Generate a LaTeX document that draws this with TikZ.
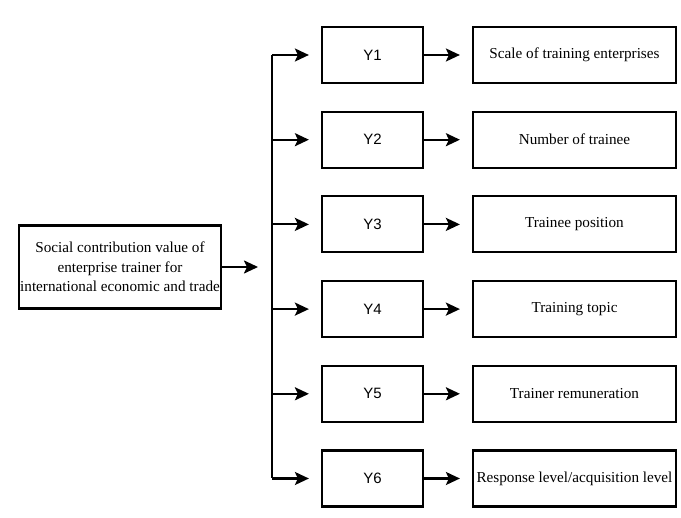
\documentclass[tikz,border=0pt]{standalone}
\usepackage{fontspec}
\setmainfont{Liberation Serif}
\newfontfamily\yfont{Liberation Sans}
\usepackage{tikz}
\usetikzlibrary{arrows.meta, positioning}

\begin{document}
\begin{tikzpicture}[
    node distance=26.5pt,
    every node/.style={font=\fontsize{15.2}{19.5}\selectfont},
    mainbox/.style={
        rectangle,
        draw=black,
        line width=2.2pt,
        align=center,
        fill=white,
        inner sep=1pt,
        minimum width=202pt,
        minimum height=83pt
    },
    ybox/.style={
        rectangle,
        draw=black,
        line width=2.2pt,
        fill=white,
        font=\yfont\fontsize{15}{18}\selectfont,
        minimum width=101pt,
        minimum height=56pt
    },
    fbox/.style={
        rectangle,
        draw=black,
        line width=2.2pt,
        fill=white,
        inner sep=1pt,
        minimum width=203pt,
        minimum height=56pt
    },
    trunk/.style={
        line width=2.2pt
    },
    arrow/.style={
        -{Stealth[length=14pt, width=13pt, inset=3pt]},
        line width=2.2pt,
        shorten >=12pt
    }
]

\useasboundingbox (0,0) rectangle (681pt,-518pt);

% Nodos
\node[mainbox] (main) at (120pt,-267pt) {Social contribution value of\\enterprise trainer for\\international economic and trade};

\node[ybox] (y1) at (372.5pt,-55pt) {Y1};
\node[ybox, below=of y1] (y2) {Y2};
\node[ybox, below=of y2] (y3) {Y3};
\node[ybox, below=of y3] (y4) {Y4};
\node[ybox, below=of y4] (y5) {Y5};
\node[ybox, below=of y5] (y6) {Y6};

\node[fbox, right=47.8pt of y1] (f1) {Scale of training enterprises};
\node[fbox, right=47.8pt of y2] (f2) {Number of trainee};
\node[fbox, right=47.8pt of y3] (f3) {Trainee position};
\node[fbox, right=47.8pt of y4] (f4) {Training topic};
\node[fbox, right=47.8pt of y5] (f5) {Trainer remuneration};
\node[fbox, right=47.8pt of y6] (f6) {Response level/acquisition level};

\coordinate (top) at (272pt,-55pt);
\coordinate (bot) at (y6 -| top);

% Flechas
\draw[arrow, shorten >=14pt] (main) -- (main -| top);
\draw[trunk] (top) -- (bot);

\draw[arrow] (top) -- (y1);
\draw[arrow] (y2 -| top) -- (y2);
\draw[arrow] (y3 -| top) -- (y3);
\draw[arrow] (y4 -| top) -- (y4);
\draw[arrow] (y5 -| top) -- (y5);
\draw[arrow] (bot) -- (y6);

\draw[arrow] (y1) -- (f1);
\draw[arrow] (y2) -- (f2);
\draw[arrow] (y3) -- (f3);
\draw[arrow] (y4) -- (f4);
\draw[arrow] (y5) -- (f5);
\draw[arrow] (y6) -- (f6);

\end{tikzpicture}
\end{document}
